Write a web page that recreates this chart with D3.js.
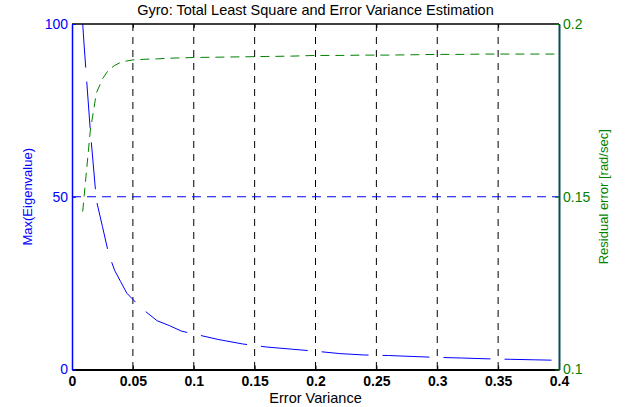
<!DOCTYPE html>
<html>
<head>
<meta charset="utf-8">
<script src="https://cdn.jsdelivr.net/npm/d3@7"></script>
<style>
  body { margin: 0; background: #fff; }
  text { font-family: Arial, "Liberation Sans", sans-serif; }
</style>
</head>
<body>
<div id="chart"></div>
<script>
// chart data
const xValues = [0.0088, 0.01, 0.015, 0.02, 0.025, 0.03, 0.035, 0.04, 0.045, 0.05,
  0.055, 0.06, 0.07, 0.08, 0.09, 0.1, 0.12, 0.14, 0.16, 0.18, 0.2, 0.22, 0.24,
  0.26, 0.28, 0.3, 0.32, 0.34, 0.36, 0.38, 0.4];
const eigValues = [100, 93.6, 69.3, 49, 41.4, 33.6, 28.7, 25.4, 22.1, 20.3,
  18.4, 16.9, 14.1, 12.7, 11.1, 10.3, 8.7, 7.4, 6.5, 5.9, 5.3, 4.6, 4.2,
  4.05, 3.76, 3.5, 3.33, 3.1, 2.95, 2.8, 2.66];
const residValues = [0.1457, 0.1503, 0.169, 0.18, 0.1841, 0.1867, 0.188, 0.1889, 0.1893, 0.1896,
  0.1897, 0.1898, 0.1899, 0.1901, 0.1902, 0.1903, 0.1904, 0.1905, 0.1906, 0.1907, 0.1909, 0.1909, 0.191,
  0.191, 0.1911, 0.1912, 0.1912, 0.1913, 0.1913, 0.1913, 0.1913];
const xTicks = [0, 0.05, 0.1, 0.15, 0.2, 0.25, 0.3, 0.35, 0.4];
const xTickLabels = ['0', '0.05', '0.1', '0.15', '0.2', '0.25', '0.3', '0.35', '0.4'];
const leftTicks = [0, 50, 100];
const rightTicks = [0.1, 0.15, 0.2];
const rightTickLabels = ['0.1', '0.15', '0.2'];

const W = 636, H = 407;
const margin = {top: 24, right: 77, bottom: 37.5, left: 72};
const width = W - margin.left - margin.right;
const height = H - margin.top - margin.bottom;

const BLUE = '#0000ff';
const GREEN = '#008000';

const svg = d3.select('#chart').append('svg')
  .attr('width', W)
  .attr('height', H);

const g = svg.append('g')
  .attr('transform', 'translate(' + margin.left + ',' + margin.top + ')');

const x = d3.scaleLinear().domain([0, 0.4]).range([0, width]);
const yL = d3.scaleLinear().domain([0, 100]).range([height, 0]);
const yR = d3.scaleLinear().domain([0.1, 0.2]).range([height, 0]);

g.append('clipPath').attr('id', 'clip')
  .append('rect').attr('width', width).attr('height', height);

// vertical grid (black dashed)
g.append('g')
  .selectAll('line')
  .data(xTicks.slice(1, -1))
  .join('line')
  .attr('x1', d => x(d)).attr('x2', d => x(d))
  .attr('y1', 0).attr('y2', height)
  .attr('stroke', '#000')
  .attr('stroke-width', 1)
  .attr('stroke-dasharray', '7,6');

// horizontal grid at 50 (blue dashed)
g.append('line')
  .attr('x1', 0).attr('x2', width)
  .attr('y1', yL(50)).attr('y2', yL(50))
  .attr('stroke', BLUE)
  .attr('stroke-width', 1)
  .attr('stroke-dasharray', '9,6');

// eigenvalue curve
const eigPath = g.append('path')
  .datum(xValues.map((d, i) => [d, eigValues[i]]))
  .attr('clip-path', 'url(#clip)')
  .attr('fill', 'none')
  .attr('stroke', BLUE)
  .attr('stroke-width', 1)
  .attr('d', d3.line().x(d => x(d[0])).y(d => yL(d[1])));

// line up the long dashes so that a gap starts at x = 0.1, as in the picture
(function () {
  const node = eigPath.node();
  const total = node.getTotalLength();
  const target = x(0.1);
  let lo = 0, hi = total;
  for (let k = 0; k < 40; k++) {
    const mid = (lo + hi) / 2;
    if (node.getPointAtLength(mid).x < target) lo = mid; else hi = mid;
  }
  const dash = 47, gap = 14, period = dash + gap;
  // gap begins at length lo -> dash ends there
  const offset = ((dash - lo) % period + period) % period;
  eigPath.attr('stroke-dasharray', dash + ',' + gap)
    .attr('stroke-dashoffset', -offset);
})();

// residual curve
g.append('path')
  .datum(xValues.map((d, i) => [d, residValues[i]]))
  .attr('clip-path', 'url(#clip)')
  .attr('fill', 'none')
  .attr('stroke', GREEN)
  .attr('stroke-width', 1)
  .attr('stroke-dasharray', '9,6')
  .attr('d', d3.line().x(d => x(d[0])).y(d => yR(d[1])));

// top border
g.append('line')
  .attr('x1', 0).attr('x2', width).attr('y1', 0).attr('y2', 0)
  .attr('stroke', '#000').attr('stroke-width', 1.5);

// x axis
const xAxis = g.append('g')
  .attr('transform', 'translate(0,' + height + ')')
  .call(d3.axisBottom(x).tickValues(xTicks)
    .tickFormat((d, i) => xTickLabels[i])
    .tickSizeInner(-4).tickSizeOuter(0).tickPadding(7));
xAxis.select('.domain').attr('stroke', '#000').attr('stroke-width', 2);
xAxis.selectAll('.tick line').attr('stroke', '#000');
xAxis.selectAll('text')
  .attr('fill', '#000')
  .style('font-size', '14px')
  .style('font-weight', 'bold');

// top ticks
g.append('g')
  .call(d3.axisTop(x).tickValues(xTicks).tickSizeInner(-4).tickSizeOuter(0).tickFormat(''))
  .call(a => a.select('.domain').remove())
  .selectAll('.tick line').attr('stroke', '#000');

// left axis
const leftAxis = g.append('g')
  .call(d3.axisLeft(yL).tickValues(leftTicks)
    .tickSizeInner(-4).tickSizeOuter(0).tickPadding(4));
leftAxis.select('.domain').attr('stroke', BLUE).attr('stroke-width', 1.5);
leftAxis.selectAll('.tick line').attr('stroke', BLUE);
leftAxis.selectAll('text')
  .attr('fill', BLUE)
  .style('font-size', '14px');

// right axis
const rightAxis = g.append('g')
  .attr('transform', 'translate(' + width + ',0)')
  .call(d3.axisRight(yR).tickValues(rightTicks)
    .tickFormat((d, i) => rightTickLabels[i])
    .tickSizeInner(-4).tickSizeOuter(0).tickPadding(4));
rightAxis.select('.domain').attr('stroke', '#0b4a5a').attr('stroke-width', 2);
rightAxis.selectAll('.tick line').attr('stroke', GREEN);
rightAxis.selectAll('text')
  .attr('fill', GREEN)
  .style('font-size', '14px');

// title
svg.append('text')
  .attr('x', margin.left + width / 2)
  .attr('y', 15)
  .attr('text-anchor', 'middle')
  .style('font-size', '14.5px')
  .attr('fill', '#000')
  .text('Gyro: Total Least Square and Error Variance Estimation');

// x label
svg.append('text')
  .attr('x', margin.left + width / 2)
  .attr('y', 403)
  .attr('text-anchor', 'middle')
  .style('font-size', '14.5px')
  .attr('fill', '#000')
  .text('Error Variance');

// left label
svg.append('text')
  .attr('transform', 'translate(32,' + (margin.top + height / 2) + ') rotate(-90)')
  .attr('text-anchor', 'middle')
  .style('font-size', '13px')
  .attr('fill', BLUE)
  .text('Max(Eigenvalue)');

// right label
svg.append('text')
  .attr('transform', 'translate(608,' + (margin.top + height / 2) + ') rotate(-90)')
  .attr('text-anchor', 'middle')
  .style('font-size', '13px')
  .attr('fill', GREEN)
  .text('Residual error [rad/sec]');
</script>
</body>
</html>
